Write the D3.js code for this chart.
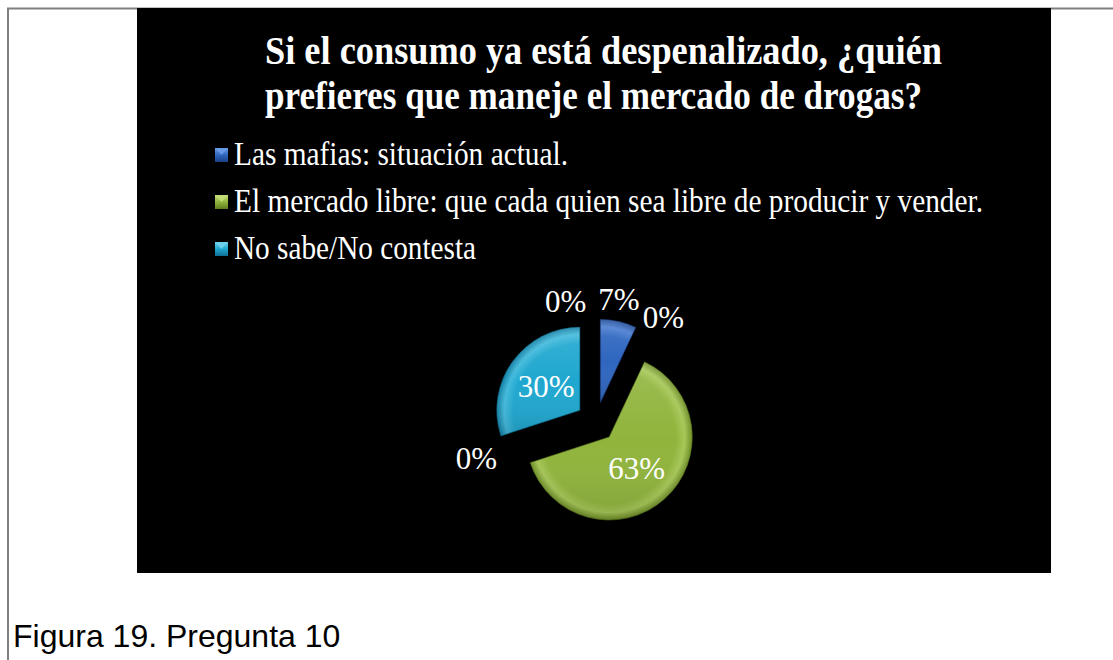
<!DOCTYPE html>
<html>
<head>
<meta charset="utf-8">
<script src="https://cdn.jsdelivr.net/npm/d3@7"></script>
<style>
  html, body { margin: 0; padding: 0; background: #fff; }
  svg { display: block; }
</style>
</head>
<body>
<svg id="fig" width="1113" height="660"></svg>
<script>
// Survey answers (percent)
const titleLines = [
  "Si el consumo ya está despenalizado, ¿quién",
  "prefieres que maneje el mercado de drogas?"
];
const categories = [
  "Las mafias: situación actual.",
  "El mercado libre: que cada quien sea libre de producir y vender.",
  "No sabe/No contesta"
];
const values = [7, 63, 30];
// empty series points that follow each category in the pie (shown as 0%)
const emptyValues = [0, 0, 0];
const caption = "Figura 19. Pregunta 10";

// ---- layout & style ----
const W = 1113, H = 660;
const panel = { x: 137, y: 8, w: 914, h: 565 };
const pieCenter = { x: 596, y: 422 };
const R = 83, EXPLODE = 20, OUT_R = 125;
const labelNudgeDeg = [-2, 7.5, 0, 1, 0, -14];
const serif = "'Liberation Serif', 'Times New Roman', Times, serif";
const palette = [
  { light: "#6a9be6", base: "#2f66bf", dark: "#1a3f86" },
  { light: "#c4de78", base: "#90b43c", dark: "#5f7d1e" },
  { light: "#6fd2ec", base: "#1fa7cf", dark: "#0e6f93" }
];

const svg = d3.select("#fig");
const defs = svg.append("defs");

// page frame
svg.append("line").attr("x1", 7).attr("x2", W).attr("y1", 8.5).attr("y2", 8.5)
  .attr("stroke", "#808080").attr("stroke-width", 2);
svg.append("line").attr("x1", 8).attr("x2", 8).attr("y1", 8).attr("y2", H)
  .attr("stroke", "#808080").attr("stroke-width", 2);

// black chart panel
svg.append("rect").attr("x", panel.x).attr("y", panel.y)
  .attr("width", panel.w).attr("height", panel.h).attr("fill", "#000");

// title
svg.append("g").selectAll("text").data(titleLines).join("text")
  .attr("x", 265)
  .attr("y", (d, i) => 64 + i * 45)
  .attr("textLength", (d, i) => [677, 657][i])
  .attr("lengthAdjust", "spacingAndGlyphs")
  .attr("fill", "#fff")
  .attr("font-family", serif)
  .attr("font-weight", "bold")
  .attr("font-size", 40)
  .text(d => d);

// legend
const legendY = d3.scalePoint().domain(categories).range([165, 259]);
const legendWidths = [334, 749, 242];
categories.forEach((c, i) => {
  const g = defs.append("linearGradient").attr("id", "lg" + i)
    .attr("x1", 0).attr("y1", 0).attr("x2", 0).attr("y2", 1);
  g.append("stop").attr("offset", 0).attr("stop-color", palette[i].light);
  g.append("stop").attr("offset", 0.5).attr("stop-color", palette[i].base);
  g.append("stop").attr("offset", 1).attr("stop-color", palette[i].dark);
});
const legend = svg.append("g").selectAll("g").data(categories).join("g")
  .attr("transform", d => `translate(0,${legendY(d)})`);
legend.append("rect")
  .attr("x", 215).attr("y", -17).attr("width", 13).attr("height", 14)
  .attr("fill", (d, i) => `url(#lg${i})`);
legend.append("path")
  .attr("d", "M216,-16 L227,-16 L221.5,-10 Z")
  .attr("fill", (d, i) => palette[i].light).attr("opacity", 0.9);
legend.append("text")
  .attr("x", 234).attr("y", 0)
  .attr("textLength", (d, i) => legendWidths[i])
  .attr("lengthAdjust", "spacingAndGlyphs")
  .attr("fill", "#fff")
  .attr("font-family", serif)
  .attr("font-size", 33)
  .text(d => d);

// exploded pie
const slices = categories.flatMap((c, i) => [
  { name: c, value: values[i], ci: i },
  { name: "", value: emptyValues[i], ci: i }
]);
const pie = d3.pie().sort(null).value(d => d.value).startAngle(0).endAngle(2 * Math.PI);
const arcs = pie(slices);
const arc = d3.arc().innerRadius(0).outerRadius(R);
const dir = a => [Math.sin(a), -Math.cos(a)];

arcs.forEach((a, k) => {
  const mid = (a.startAngle + a.endAngle) / 2;
  const [dx, dy] = dir(mid);
  a.ox = pieCenter.x + dx * EXPLODE;
  a.oy = pieCenter.y + dy * EXPLODE;
  a.mid = mid;
  a.k = k;
});

// radial shading per slice (in the slice's own translated frame) for the bevelled look
arcs.filter(a => a.value > 0).forEach(a => {
  const p = palette[a.data.ci];
  const g = defs.append("radialGradient").attr("id", "pg" + a.k)
    .attr("gradientUnits", "userSpaceOnUse")
    .attr("cx", 0).attr("cy", 0).attr("r", R)
    .attr("fx", 0).attr("fy", 0);
  g.append("stop").attr("offset", 0).attr("stop-color", p.base);
  g.append("stop").attr("offset", 0.8).attr("stop-color", p.base);
  g.append("stop").attr("offset", 0.91).attr("stop-color", d3.interpolateRgb(p.base, p.light)(0.45));
  g.append("stop").attr("offset", 1).attr("stop-color", d3.interpolateRgb(p.base, p.dark)(0.7));
});
// soft light from above on top of the radial shading
const sheen = defs.append("linearGradient").attr("id", "sheen")
  .attr("x1", 0).attr("y1", 0).attr("x2", 0).attr("y2", 1);
sheen.append("stop").attr("offset", 0).attr("stop-color", "#fff").attr("stop-opacity", 0.12);
sheen.append("stop").attr("offset", 0.5).attr("stop-color", "#fff").attr("stop-opacity", 0);
sheen.append("stop").attr("offset", 1).attr("stop-color", "#000").attr("stop-opacity", 0.12);

const pieG = svg.append("g");
const sliceG = pieG.selectAll("g").data(arcs.filter(a => a.value > 0)).join("g")
  .attr("transform", a => `translate(${a.ox},${a.oy})`);
sliceG.append("path")
  .attr("d", arc)
  .attr("fill", a => `url(#pg${a.k})`)
  .attr("stroke", a => palette[a.data.ci].dark)
  .attr("stroke-width", 1)
  .attr("stroke-opacity", 0.6);
sliceG.append("path")
  .attr("d", arc)
  .attr("fill", "url(#sheen)");

// data labels: inside for large slices, outside otherwise
const fmt = v => Math.round(v) + "%";
svg.append("g").selectAll("text").data(arcs).join("text")
  .attr("transform", a => {
    if (a.value >= 10) {
      const [dx, dy] = dir(a.mid);
      return `translate(${a.ox + dx * R * 0.5},${a.oy + dy * R * 0.5})`;
    }
    const ang = a.mid + labelNudgeDeg[a.k] * Math.PI / 180;
    const [dx, dy] = dir(ang);
    return `translate(${pieCenter.x + dx * OUT_R},${pieCenter.y + dy * OUT_R})`;
  })
  .attr("text-anchor", "middle")
  .attr("dy", "0.35em")
  .attr("fill", "#fff")
  .attr("font-family", serif)
  .attr("font-size", 31)
  .text(a => fmt(a.value));

// figure caption
svg.append("text")
  .attr("x", 13).attr("y", 647)
  .attr("fill", "#000")
  .attr("font-family", "'Liberation Sans', Arial, sans-serif")
  .attr("font-size", 32)
  .text(caption);
</script>
</body>
</html>
